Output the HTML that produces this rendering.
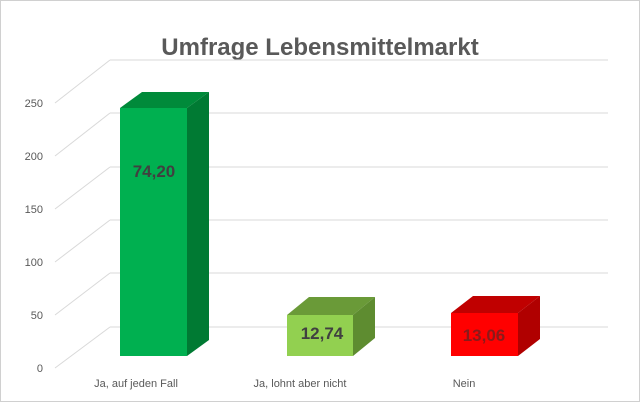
<!DOCTYPE html><html><head><style>body{margin:0;background:#fff}</style></head><body>
<svg width="640" height="402" xmlns="http://www.w3.org/2000/svg" font-family="Liberation Sans, sans-serif">
<rect x="0.5" y="0.5" width="639" height="401" fill="#fff" stroke="#d0d0d0"/>
<text x="320" y="55" text-anchor="middle" font-size="24" font-weight="bold" fill="#595959">Umfrage Lebensmittelmarkt</text>
<g stroke="#d9d9d9" stroke-width="1" fill="none">
<path d="M110 60H608M110 113H608M110 167H608M110 220H608M110 273H608M110 327H608"/>
<path d="M55 103L110 60M55 156L110 113M55 209L110 167M55 262L110 220M55 315L110 273M55 368L110 327"/>
</g>
<g font-size="11" fill="#595959" text-anchor="end">
<text x="43" y="107">250</text><text x="43" y="160">200</text><text x="43" y="213">150</text><text x="43" y="266">100</text><text x="43" y="319">50</text><text x="43" y="372">0</text>
</g>
<g font-size="11" fill="#595959" text-anchor="middle">
<text x="136" y="387">Ja, auf jeden Fall</text><text x="300" y="387">Ja, lohnt aber nicht</text><text x="464" y="387">Nein</text>
</g>
<polygon points="120,108 142,92 209,92 187,108" fill="#008a3a"/>
<polygon points="187,108 209,92 209,340 187,356" fill="#007a33"/>
<rect x="120" y="108" width="67" height="248" fill="#00b050"/>
<polygon points="287,315 309,297 375,297 353,315" fill="#6a9a38"/>
<polygon points="353,315 375,297 375,338 353,356" fill="#5e8c30"/>
<rect x="287" y="315" width="66" height="41" fill="#92d050"/>
<polygon points="451,313 473,296 540,296 518,313" fill="#c00000"/>
<polygon points="518,313 540,296 540,339 518,356" fill="#b00000"/>
<rect x="451" y="313" width="67" height="43" fill="#ff0000"/>
<g font-size="17" font-weight="bold" fill="#404040" text-anchor="middle">
<text x="154" y="177">74,20</text><text x="322" y="339">12,74</text><text x="484" y="341" fill="#8a1a1a">13,06</text>
</g>
</svg>
</body></html>
